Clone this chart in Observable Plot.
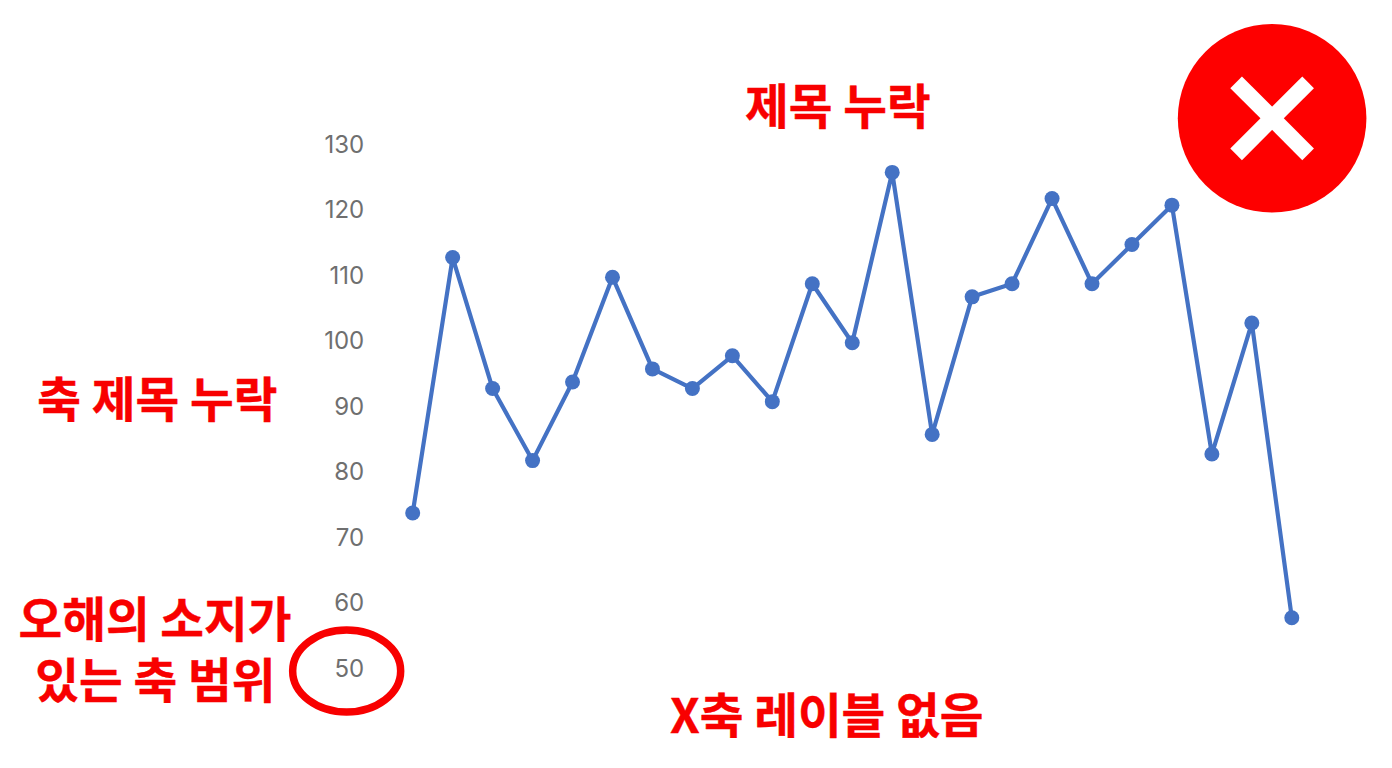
<!DOCTYPE html>
<html><head><meta charset="utf-8">
<script src="https://cdn.jsdelivr.net/npm/d3@7"></script>
<script src="https://cdn.jsdelivr.net/npm/@observablehq/plot@0.6"></script>
<style>html,body{margin:0;padding:0;background:#fff;overflow:hidden}svg{display:block}</style>
</head><body><div id="chart"></div>
<script>
const observations = d3.range(1, 24);
const values = [74,113,93,82,94,110,96,93,98,91,109,100,126,86,107,109,122,109,115,121,83,103,58];
const yTicks = [50,60,70,80,90,100,110,120,130];
const notes = ["제목 누락","축 제목 누락","오해의 소지가","있는 축 범위","X축 레이블 없음"];
const noteX = [10.64,-6.39,-6.45,-6.44,10.36];
const noteY = [135.64,91.02,57.34,48.02,42.78];
const points = observations.map((o,i)=>({o:o-1,v:values[i]}));
const RED = "#f80000";
const noteTable = notes.map((t,i)=>({t,x:noteX[i],y:noteY[i]}));

function overlay(index, scales) {
  const g = d3.create("svg:g");
  const sx = scales.x, sy = scales.y;
  g.append("ellipse").attr("cx",sx(-1.64)).attr("cy",sy(49.8)).attr("rx",54).attr("ry",41)
    .attr("fill","none").attr("stroke",RED).attr("stroke-width",7.5);
  const cx=sx(21.52), cy=sy(134.18);
  g.append("circle").attr("cx",cx).attr("cy",cy).attr("r",94.3).attr("fill","#fe0000");
  const a=36;
  [[-a,-a,a,a],[-a,a,a,-a]].forEach(([x1,y1,x2,y2])=>g.append("line")
    .attr("x1",cx+x1).attr("y1",cy+y1).attr("x2",cx+x2).attr("y2",cy+y2)
    .attr("stroke","#fff").attr("stroke-width",16.5));
  return g.node();
}

const chart = Plot.plot({
  width:1392, height:768,
  marginTop:0,marginBottom:0,marginLeft:0,marginRight:0,
  style:{background:"#fff",overflow:"visible"},
  x:{domain:[0,22],range:[412.2,1291.3],axis:null},
  y:{domain:[50,130],range:[669.7,145.7],axis:null},
  marks:[
    Plot.text(yTicks,{x:()=>-1.214,y:d=>d,dy:-0.9,text:d=>String(d),fontSize:24,fill:"#6f6f6f",fontFamily:"Inter, sans-serif",textAnchor:"end"}),
    Plot.line(points,{x:"o",y:"v",stroke:"#4472c4",strokeWidth:4.2,strokeLinejoin:"round"}),
    Plot.dot(points,{x:"o",y:"v",r:7.5,fill:"#4472c4"}),
    overlay,
    Plot.text(noteTable,{x:"x",y:"y",text:"t",fontSize:47.5,fontWeight:700,fill:RED,stroke:RED,strokeWidth:0.4,fontFamily:"'Noto Sans CJK KR', sans-serif",textAnchor:"middle"})
  ]
});
document.getElementById("chart").append(chart);
</script></body></html>
